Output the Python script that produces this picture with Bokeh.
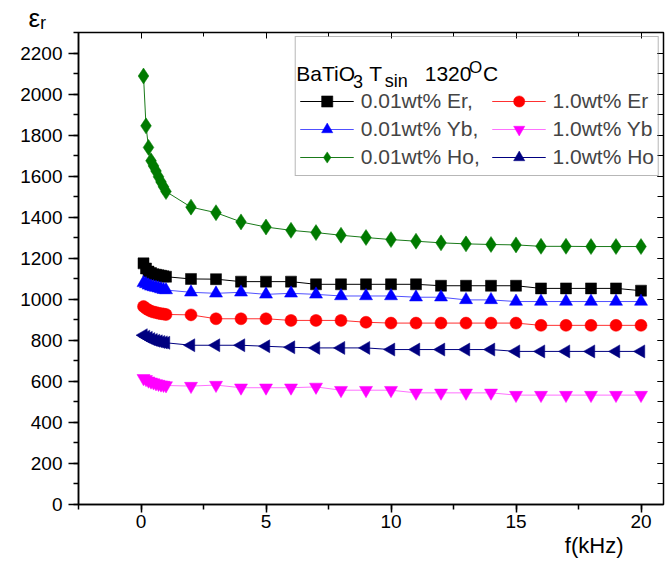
from bokeh.plotting import figure
from bokeh.models import (Range1d, LinearAxis, Legend, LegendItem, Label, Title,
                          SingleIntervalTicker, CustomJSTickFormatter)
from bokeh.embed import file_html
from bokeh.resources import INLINE

# ---- data ----
freq_khz = [0.1, 0.2, 0.3, 0.4, 0.5, 0.6, 0.7, 0.8, 0.9, 1.0,
            2, 3, 4, 5, 6, 7, 8, 9, 10, 11, 12, 13, 14, 15, 16, 17, 18, 19, 20]

er_001 = [1175, 1150, 1135, 1128, 1122, 1120, 1117, 1115, 1112, 1110,
          1099, 1098, 1086, 1086, 1086, 1073, 1073, 1073, 1073, 1073,
          1066, 1066, 1066, 1066, 1053, 1053, 1053, 1053, 1042]
er_10 = [965, 955, 948, 942, 938, 935, 932, 930, 928, 926,
         924, 905, 905, 905, 897, 897, 897, 888, 884, 884,
         884, 884, 884, 884, 873, 873, 873, 873, 873]
yb_001 = [1080, 1075, 1068, 1063, 1060, 1057, 1054, 1050, 1047, 1045,
          1034, 1029, 1034, 1024, 1029, 1024, 1016, 1016, 1016, 1010,
          1010, 997, 997, 989, 989, 989, 989, 989, 989]
yb_10 = [615, 610, 603, 598, 594, 590, 587, 584, 582, 580,
         577, 582, 569, 569, 569, 573, 557, 557, 557, 544,
         544, 544, 544, 533, 533, 533, 533, 533, 533]
ho_001 = [2088, 1845, 1740, 1675, 1650, 1625, 1597, 1572, 1548, 1525,
          1449, 1422, 1377, 1352, 1336, 1325, 1312, 1301, 1291, 1283,
          1275, 1270, 1267, 1265, 1258, 1258, 1257, 1257, 1257]
ho_10 = [825, 818, 812, 806, 802, 798, 795, 792, 790, 788,
         776, 776, 776, 771, 766, 763, 763, 763, 755, 755,
         755, 755, 755, 746, 746, 746, 746, 746, 746]

# legend column 1 labels carry two trailing spaces to open the gap between columns
labels = ["0.01wt% Er,  ", "0.01wt% Yb,  ", "0.01wt% Ho,  ", "1.0wt% Er", "1.0wt% Yb", "1.0wt% Ho"]
series = [er_001, yb_001, ho_001, er_10, yb_10, ho_10]
markers = ["square", "triangle", "diamond", "circle", "inverted_triangle", "triangle"]
angles = [0, 0, 0, 0, 0, 1.5707963]
sizes = [11, 13, 16, 12, 13, 13]
fill_colors = ["#000000", "#0000ff", "#007a00", "#ff0000", "#ff00ff", "#000080"]
line_colors = ["#000000", "#5050ff", "#1a7a1a", "#ff3030", "#ff70ff", "#000080"]

FONT = "Liberation Sans"

p = figure(width=665, height=561, output_backend="svg", toolbar_location=None,
           x_range=Range1d(-2.5, 20.9), y_range=Range1d(0, 2300),
           min_border_left=78, min_border_right=2, min_border_top=31, min_border_bottom=57,
           background_fill_color="white", border_fill_color="white")
p.xgrid.visible = False
p.ygrid.visible = False
p.outline_line_color = "black"
p.outline_line_width = 1.5

for ax in (p.xaxis[0], p.yaxis[0]):
    ax.axis_line_width = 1.5
    ax.major_tick_line_width = 1.5
    ax.minor_tick_line_width = 1.5
    ax.major_label_text_font = FONT
    ax.major_label_text_font_size = "19px"
    ax.major_label_text_color = "black"
    ax.major_tick_in = 0
    ax.minor_tick_in = 0
    ax.minor_tick_out = 5

p.xaxis[0].ticker = SingleIntervalTicker(interval=5, num_minor_ticks=2)
p.yaxis[0].ticker = SingleIntervalTicker(interval=200, num_minor_ticks=2)
p.xaxis[0].major_tick_out = 8
p.xaxis[0].major_label_standoff = 2
p.yaxis[0].major_tick_out = 10
p.yaxis[0].major_label_standoff = 6

# mirrored axes with inward ticks and no labels
blank = CustomJSTickFormatter(code="return ''")
top_ax = LinearAxis(ticker=SingleIntervalTicker(interval=5, num_minor_ticks=2),
                    formatter=blank,
                    major_label_text_font_size="0px", major_label_standoff=0,
                    major_tick_out=0, minor_tick_out=0, major_tick_in=6, minor_tick_in=4,
                    axis_line_color=None)
right_ax = LinearAxis(ticker=SingleIntervalTicker(interval=200, num_minor_ticks=2),
                      formatter=blank,
                      major_label_text_font_size="0px", major_label_standoff=0,
                      major_tick_out=0, minor_tick_out=0, major_tick_in=6, minor_tick_in=6,
                      axis_line_color=None)
p.add_layout(top_ax, "above")
p.add_layout(right_ax, "right")

# axis titles (outside the frame, so as Titles in the side panels)
p.add_layout(Title(text="\u03b5\u1d63", align="left", offset=-50, standoff=0,
                   text_font=FONT, text_font_size="26px", text_font_style="normal",
                   text_color="black"), "above")
p.add_layout(Title(text="f(kHz)", align="right", offset=40, standoff=0,
                   text_font=FONT, text_font_size="22px", text_font_style="normal",
                   text_color="black"), "below")

items = []
for lab, ys, mk, ang, sz, fc, lc in zip(labels, series, markers, angles, sizes, fill_colors, line_colors):
    r1 = p.line(freq_khz, ys, line_color=lc, line_width=1)
    r2 = p.scatter(freq_khz, ys, marker=mk, angle=ang, size=sz,
                   fill_color=fc, line_color=fc, line_width=0.5)
    items.append(LegendItem(label=lab, renderers=[r1, r2]))

legend = Legend(items=items, location="top_right", ncols=2, orientation="vertical",
                title=" ", title_text_font_size="28px", title_standoff=14,
                label_text_font=FONT, label_text_font_size="21px",
                glyph_width=54, glyph_height=28, label_standoff=7, spacing=0,
                padding=4, margin=4, border_line_color="#707070", border_line_width=1,
                background_fill_color="white", background_fill_alpha=0)
p.add_layout(legend, "center")

def lab(text, x, y, size):
    p.add_layout(Label(x=x, y=y, text=text, text_font=FONT, text_font_size=size,
                       text_color="black", text_baseline="alphabetic", level="overlay"))

# legend title: BaTiO3 Tsin 1320 oC
lab("BaTiO", 6.21, 2100, "21px")
lab("3", 8.48, 2063, "18px")
lab("T", 9.13, 2100, "21px")
lab("sin", 9.75, 2063, "18px")
lab("1320", 11.35, 2100, "21px")
lab("O", 13.12, 2128, "17px")
lab("C", 13.68, 2100, "21px")

html = file_html(p, INLINE)
open("out.html", "w").write(html)
